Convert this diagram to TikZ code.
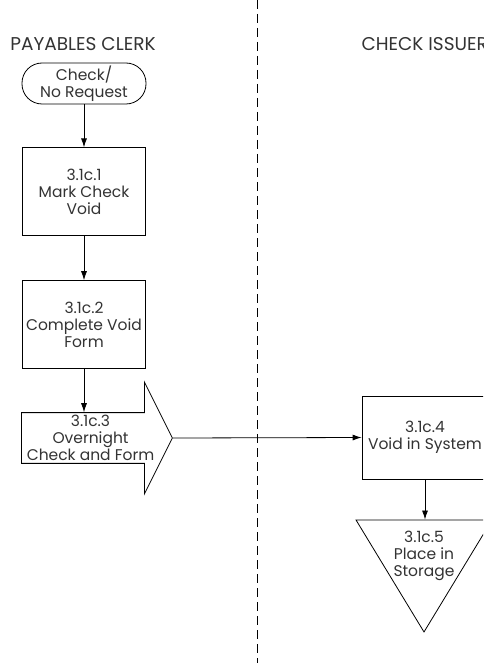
\documentclass[tikz,border=0pt]{standalone}
\usepackage{fontspec}
\setmainfont{Poppins}
\usetikzlibrary{positioning,arrows.meta,shapes.arrows,shapes.geometric}

\begin{document}
\begin{tikzpicture}[
  x=1pt, y=1pt,
  font=\fontsize{15.5}{17}\selectfont,
  text=black!80,
  >={Latex[length=9pt,width=6pt]},
  node distance=43pt,
  proc/.style={draw, line width=0.8pt, align=center, minimum width=123pt,
               minimum height=88pt, inner sep=1pt},
  term/.style={draw, line width=0.8pt, align=center, rounded corners=20pt,
               minimum width=124pt, minimum height=41pt, inner sep=1pt},
  ship/.style={draw, line width=0.8pt, align=center, single arrow,
               minimum height=151pt, minimum width=112pt, inner sep=0pt,
               single arrow head extend=28pt, single arrow tip angle=126.87},
  store/.style={draw, line width=0.8pt, isosceles triangle,
                shape border rotate=270, isosceles triangle stretches,
                minimum width=136pt, minimum height=112pt, inner sep=0pt},
  flow/.style={->, line width=0.8pt},
  lane/.style={font=\fontsize{18.5}{20}\selectfont},
  divider/.style={line width=0.8pt, dash pattern=on 9pt off 5pt},
]
\clip (0,0) rectangle (483,-663);

% ---- swim lanes ----
\coordinate (divtop) at (257,0);
\coordinate (divbot) at (257,-663);
\draw[divider] (divtop) -- (divbot);
\node[lane] (clerk) at (83,-44) {PAYABLES CLERK};
\node[lane, anchor=west] (issuer) at (358,-44) {CHECK ISSUER};

% ---- payables clerk ----
\node[term] (start) at (84,-83.5) {Check/\\No Request};
\node[proc, below=of start] (mark) {3.1c.1\\Mark Check\\Void};
\node[proc, below=44pt of mark] (form) {3.1c.2\\Complete Void\\Form};
\node[ship, anchor=tail] (ship) at (21,-438) {3.1c.3\\Overnight\\Check and Form};

% ---- check issuer ----
\node[proc, minimum width=126pt, minimum height=83pt] (sys) at (425,-437.5) {3.1c.4\\Void in System};
\node[store, anchor=apex] (store) at (424,-633) {};
\node[align=center, inner sep=0pt] (storetxt) at (424,-556) {3.1c.5\\Place in\\Storage};

% ---- flows ----
\draw[flow] (start) -- (mark);
\draw[flow] (mark) -- (form);
\draw[flow] (form.south) -- (form.south |- ship.after tail);
\draw[flow] (ship.tip) -- (sys.west);
\draw[flow] (sys.south) -- (sys.south |- store.left corner);
\end{tikzpicture}
\end{document}
